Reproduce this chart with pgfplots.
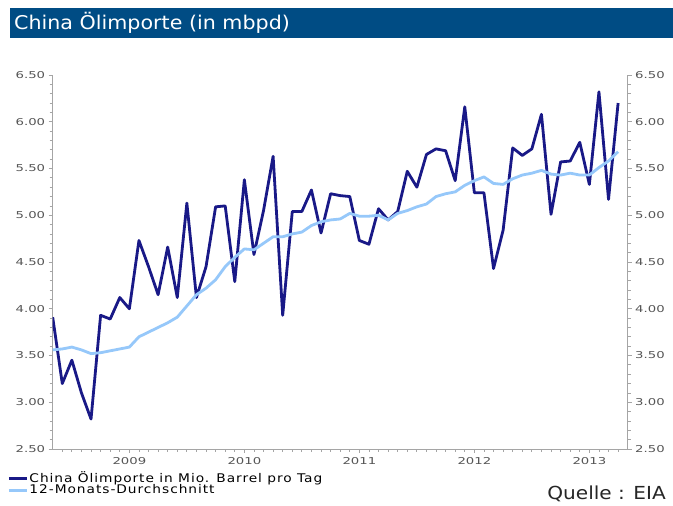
\documentclass[border=0pt]{standalone}
\usepackage{fontspec}
\usepackage{pgfplots}
\pgfplotsset{compat=1.18}
\setmainfont{DejaVu Sans}
\newfontfamily\tickfont[FakeStretch=1.4]{DejaVu Sans}
\newfontfamily\legfont[FakeStretch=1.15,LetterSpace=8]{DejaVu Sans}
\newfontfamily\srcfont[FakeStretch=1.12]{DejaVu Sans}
\newfontfamily\titlefont[FakeStretch=1.09]{DejaVu Sans}
\definecolor{titlebar}{RGB}{0,76,132}
\definecolor{darkline}{RGB}{25,25,135}
\definecolor{lightline}{RGB}{150,200,250}
\definecolor{axisgray}{RGB}{165,165,165}
\definecolor{ticktext}{RGB}{85,85,85}

\pgfplotstableread{
x y
0 3.91
1 3.20
2 3.45
3 3.10
4 2.82
5 3.93
6 3.89
7 4.12
8 4.00
9 4.73
10 4.45
11 4.15
12 4.66
13 4.12
14 5.13
15 4.12
16 4.45
17 5.09
18 5.10
19 4.29
20 5.38
21 4.58
22 5.05
23 5.63
24 3.93
25 5.04
26 5.04
27 5.27
28 4.81
29 5.23
30 5.21
31 5.20
32 4.73
33 4.69
34 5.07
35 4.95
36 5.04
37 5.47
38 5.30
39 5.65
40 5.71
41 5.69
42 5.37
43 6.16
44 5.24
45 5.24
46 4.43
47 4.84
48 5.72
49 5.64
50 5.71
51 6.08
52 5.01
53 5.57
54 5.58
55 5.78
56 5.33
57 6.32
58 5.17
59 6.20
}\imports

\pgfplotstableread{
x y
0 3.56
1 3.57
2 3.59
3 3.56
4 3.52
5 3.53
6 3.55
7 3.57
8 3.59
9 3.70
10 3.75
11 3.80
12 3.85
13 3.91
14 4.03
15 4.15
16 4.22
17 4.31
18 4.45
19 4.55
20 4.64
21 4.63
22 4.70
23 4.77
24 4.77
25 4.80
26 4.82
27 4.89
28 4.93
29 4.95
30 4.96
31 5.02
32 4.99
33 4.99
34 5.00
35 4.95
36 5.02
37 5.05
38 5.09
39 5.12
40 5.20
41 5.23
42 5.25
43 5.32
44 5.37
45 5.41
46 5.34
47 5.33
48 5.39
49 5.43
50 5.45
51 5.48
52 5.44
53 5.43
54 5.45
55 5.43
56 5.43
57 5.51
58 5.58
59 5.68
}\avg

\pgfplotsset{
  commonaxis/.style={
    at={(52.7bp,57bp)}, anchor=south west, scale only axis,
    width=575bp, height=374bp,
    xmin=0, xmax=60, ymin=2.5, ymax=6.5,
    ytick={2.5,3,3.5,4,4.5,5,5.5,6,6.5},
    minor y tick num=4,
    tick align=outside,
    major tick length=4bp, minor tick length=3bp,
    every tick/.style={axisgray, line width=0.8pt},
    every minor tick/.style={axisgray, line width=0.8pt},
    axis line style={axisgray, line width=0.8pt},
    yticklabel style={font=\tickfont\fontsize{9.5}{10}\selectfont, text=ticktext,
      /pgf/number format/.cd, fixed, fixed zerofill, precision=2, assume math mode=true},
  }
}

\begin{document}
\begin{tikzpicture}
\path[use as bounding box] (0bp,0bp) rectangle (673bp,506bp);
\fill[white] (0bp,0bp) rectangle (673bp,506bp);
\fill[titlebar] (10bp,468bp) rectangle (673bp,498bp);
\node[anchor=west, text=white, font=\titlefont\fontsize{19}{22}\selectfont, inner sep=0pt] at (14bp,483bp) {China Ölimporte (in mbpd)};

\begin{axis}[commonaxis,
  axis x line*=bottom, axis y line*=left,
  xtick={8,20,32,44,56},
  xticklabels={2009,2010,2011,2012,2013},
  minor xtick={1,...,59},
  xticklabel style={font=\tickfont\fontsize{9.5}{10}\selectfont, text=ticktext, yshift=-1bp},
  legend style={at={(-0.079,-0.058)}, anchor=north west, draw=none, fill=none,
    font=\legfont\fontsize{12}{12}\selectfont, inner sep=0pt, row sep=-1.5bp,
    nodes={inner sep=1bp}},
  legend cell align=left,
  legend image code/.code={\draw[#1, line width=3bp] (0bp,0bp) -- (18bp,0bp);},
]
\addplot[darkline, line width=2.8bp, line join=round] table[x=x,y=y] {\imports};
\addlegendentry{China Ölimporte in Mio. Barrel pro Tag}
\addplot[lightline, line width=2.8bp, line join=round] table[x=x,y=y] {\avg};
\addlegendentry{12-Monats-Durchschnitt}
\end{axis}

\begin{axis}[commonaxis,
  axis x line=none, axis y line*=right,
]
\end{axis}

\node[anchor=east, inner sep=0pt, font=\srcfont\fontsize{18}{18}\selectfont, text=black!85] at (666bp,12bp) {Quelle : EIA};
\end{tikzpicture}
\end{document}
